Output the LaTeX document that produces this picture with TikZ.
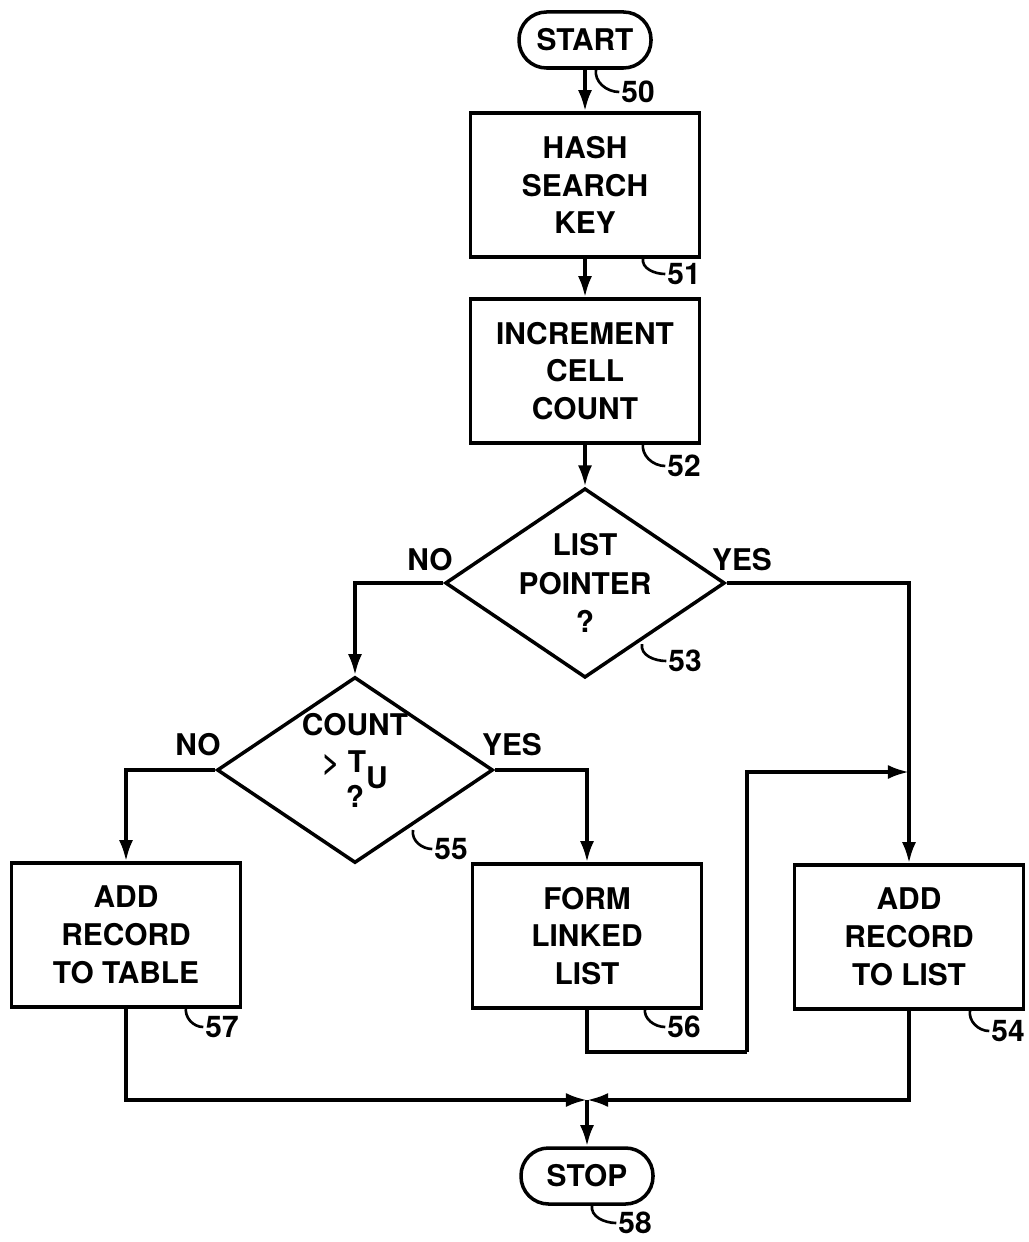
\documentclass[tikz,border=0pt]{standalone}
\usepackage{fontspec}
\setmainfont{TeX Gyre Heros}
\usetikzlibrary{arrows.meta,shapes.geometric}
\begin{document}
\begin{tikzpicture}[
    x=0.2mm, y=-0.2mm,
    box/.style={rectangle, draw, line width=2pt, minimum width=4.58cm, minimum height=2.88cm, align=center, font=\fontsize{17}{21.5}\selectfont\bfseries},
    term/.style={rectangle, draw, line width=2pt, rounded corners=0.55cm, minimum width=2.64cm, minimum height=1.12cm, font=\fontsize{17}{19}\selectfont\bfseries},
    decide/.style={diamond, draw, line width=2pt, inner sep=0pt, aspect=1.476, minimum width=5.52cm, minimum height=3.72cm, align=center, font=\fontsize{17}{22}\selectfont\bfseries},
    tag/.style={font=\fontsize{17}{17}\selectfont\bfseries, inner sep=1pt},
    ans/.style={font=\fontsize{17}{17}\selectfont\bfseries},
    hook/.style={line width=1.5pt},
    line/.style={line width=2pt},
    edge/.style={line width=2pt, -{Latex[length=12pt,width=8pt]}},
]
\useasboundingbox (0,0) rectangle (1028,1242);
\node[term] (start) at (585,40) {START};
\node[box] (hash) at (585,185) {HASH\\SEARCH\\KEY};
\node[box] (incr) at (585,371) {INCREMENT\\CELL\\COUNT};
\node[decide] (d53) at (585,583) {LIST\\POINTER\\?};
\node[decide] (d55) at (355,770) {COUNT\\[-1pt]> T\raisebox{-9pt}[0pt][0pt]{U}\\[-2pt]?\rule[-11pt]{0pt}{0pt}};
\node[box] (n57) at (126,935) {ADD\\RECORD\\TO TABLE};
\node[box] (n56) at (587,936) {FORM\\LINKED\\LIST};
\node[box] (n54) at (909,937) {ADD\\RECORD\\TO LIST};
\node[term] (stop) at (587,1176) {STOP};
\coordinate (merge) at (909,772);
\coordinate (c56) at (747,1052);
\coordinate (join) at (587,1100);
% yes / no
\node[ans] (no53) at (430,560) {NO};
\node[ans] (yes53) at (742,560) {YES};
\node[ans] (no55) at (198,745) {NO};
\node[ans] (yes55) at (512,745) {YES};
% flow
\draw[edge] (start) -- (hash);
\draw[edge] (hash) -- (incr);
\draw[edge] (incr) -- (d53);
\draw[edge] (d53.west) -| (d55.north);
\draw[edge] (d53.east) -| (n54.north);
\draw[edge] (d55.west) -| (n57.north);
\draw[edge] (d55.east) -| (n56.north);
\draw[line] (n56.south) |- (c56);
\draw[edge] (c56) |- (merge);
\draw[edge] (n57.south) |- (join);
\draw[edge] (n54.south) |- (join);
\draw[edge] (join) -- (stop);
% reference numerals
\node[tag] (t50) at (638,92) {50};
\node[tag] (t51) at (684,274) {51};
\node[tag] (t52) at (684,466) {52};
\node[tag] (t53) at (685,661) {53};
\node[tag] (t55) at (451,849) {55};
\node[tag] (t57) at (222,1027) {57};
\node[tag] (t56) at (684,1027) {56};
\node[tag] (t54) at (1008,1031) {54};
\node[tag] (t58) at (635,1223) {58};
\coordinate (h50) at (596,69);
\coordinate (h51) at (643,258);
\coordinate (h52) at (643,443);
\coordinate (h53) at (642,644);
\coordinate (h55) at (413,830);
\coordinate (h57) at (186,1007);
\coordinate (h56) at (645,1008);
\coordinate (h54) at (970,1010);
\coordinate (h58) at (592,1205);
\foreach \t in {50,51,52,53,55,57,56,54,58}
  \draw[hook] (h\t) to[out=-100,in=180] (t\t.west);
\end{tikzpicture}
\end{document}
